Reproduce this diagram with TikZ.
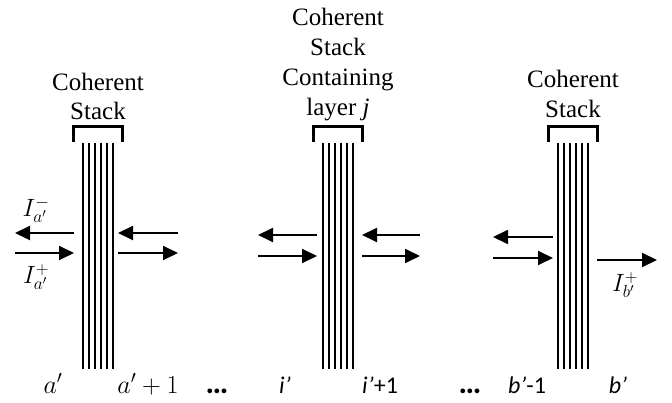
\RequirePackage{fix-cm}
\documentclass[tikz,border=0pt]{standalone}
\usepackage{fontspec}
\setmainfont{Liberation Serif}
\newfontfamily\calfont{Carlito}
\usetikzlibrary{arrows.meta}
\tikzset{
  stackline/.style={line width=1.4pt},
  brk/.style={line width=3pt, line join=miter},
  flow/.style={line width=2pt, -{Triangle[length=15pt,width=14pt]}},
  stacktxt/.style={font=\fontsize{25}{30}\selectfont, anchor=base, inner sep=0pt},
  idxmath/.style={font=\fontsize{26}{30}\selectfont, anchor=base, inner sep=0pt},
  idxcal/.style={font=\calfont\fontsize{24}{28}\selectfont, anchor=base, inner sep=0pt},
  dotsty/.style={font=\calfont\bfseries\fontsize{32}{34}\selectfont, anchor=base, inner sep=0pt},
  flux/.style={font=\fontsize{25}{28}\selectfont, inner sep=0pt},
}
\begin{document}
\begin{tikzpicture}[x=1pt,y=-1pt]
\useasboundingbox (0,0) rectangle (672,403);
% ---------- stacks ----------
\foreach \s in {83,323,558}{
  \foreach \k in {0,...,5}
    \draw[stackline] (\s+6*\k,143) -- (\s+6*\k,369);
  \draw[brk] (\s-10,142) -- (\s-10,127) -- (\s+39,127) -- (\s+39,142);
}
% ---------- stack captions ----------
\node[stacktxt] (c1a) at (98,91) {Coherent};
\node[stacktxt] (c1b) at (98,120) {Stack};
\node[stacktxt] (c2a) at (338,26) {Coherent};
\node[stacktxt] (c2b) at (338,56) {Stack};
\node[stacktxt] (c2c) at (338,86) {Containing};
\node[stacktxt] (c2d) at (338,116) {layer \textit{j}};
\node[stacktxt] (c3a) at (573,88) {Coherent};
\node[stacktxt] (c3b) at (573,118) {Stack};
% ---------- arrow end points ----------
\coordinate (p1) at (74,233);  \coordinate (q1) at (15,233);
\coordinate (p2) at (15,253);  \coordinate (q2) at (74,253);
\coordinate (p3) at (178,233); \coordinate (q3) at (118,233);
\coordinate (p4) at (118,253); \coordinate (q4) at (178,253);
\coordinate (p5) at (317,235); \coordinate (q5) at (258,235);
\coordinate (p6) at (258,256); \coordinate (q6) at (317,256);
\coordinate (p7) at (420,235); \coordinate (q7) at (362,235);
\coordinate (p8) at (362,256); \coordinate (q8) at (420,256);
\coordinate (p9) at (553,237); \coordinate (q9) at (493,237);
\coordinate (p10) at (493,258); \coordinate (q10) at (553,258);
\coordinate (p11) at (597,260); \coordinate (q11) at (657,260);
\foreach \i in {1,...,11} \draw[flow] (p\i) -- (q\i);
% ---------- flux labels ----------
\node[flux] (ia) at (36,210) {$I_{a'}^{-}$};
\node[flux] (ib) at (36,277) {$I_{a'}^{+}$};
\node[flux] (ic) at (625,285) {$I_{b'}^{+}$};
% ---------- interface indices ----------
\node[idxmath] (l1) at (53,393) {$a'$};
\node[idxmath] (l2) at (148,393) {$a'+1$};
\node[dotsty] (d1) at (217,393) {…};
\node[idxcal] (l3) at (285,393) {\itshape i’};
\node[idxcal] (l4) at (380,393) {{\itshape i’}+1};
\node[dotsty] (d2) at (470,393) {…};
\node[idxcal] (l5) at (527,393) {{\itshape b’}-1};
\node[idxcal] (l6) at (618,393) {\itshape b’};
\end{tikzpicture}
\end{document}
